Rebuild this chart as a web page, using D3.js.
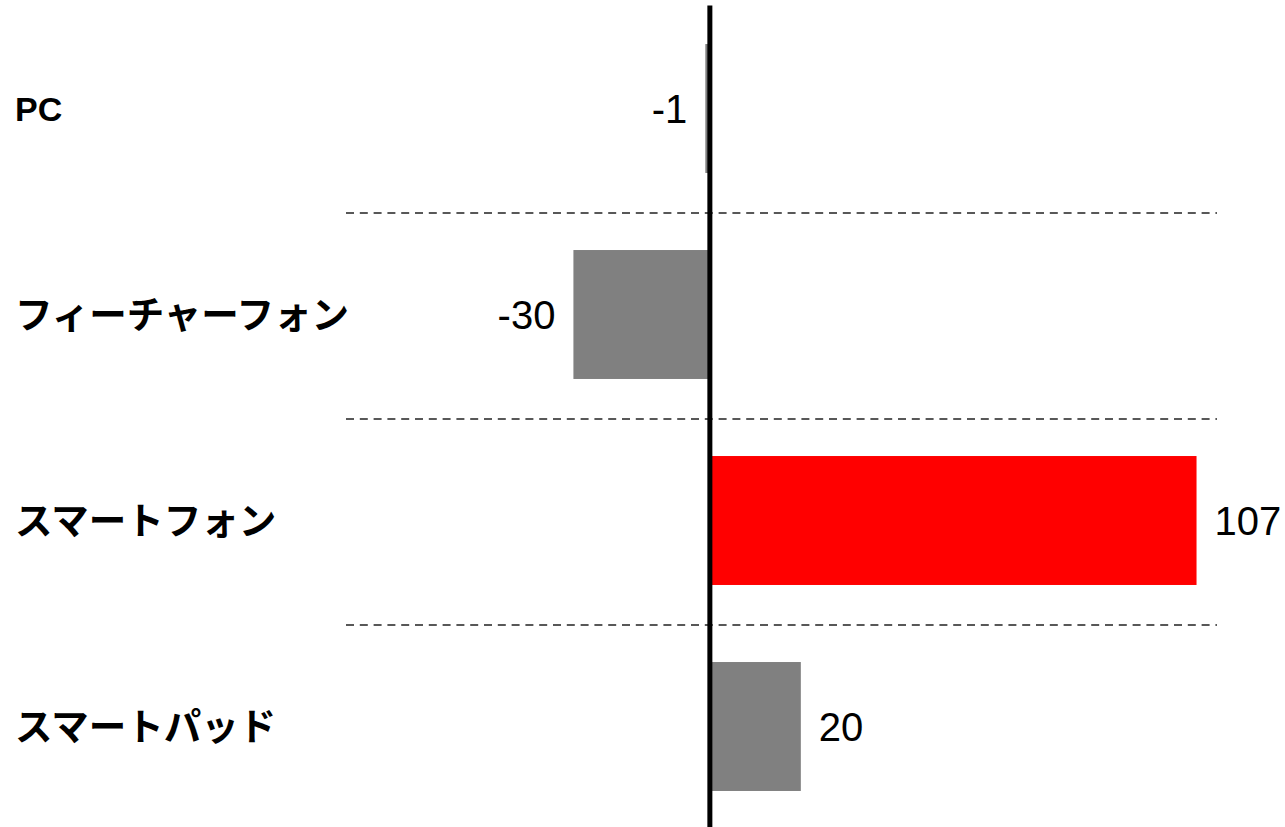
<!DOCTYPE html>
<html>
<head>
<meta charset="utf-8">
<script src="https://cdn.jsdelivr.net/npm/d3@7"></script>
<style>
  body { margin: 0; background: #fff; }
  svg { display: block; }
</style>
</head>
<body>
<svg id="chart"></svg>
<script>

// data
var categories = ["PC", "フィーチャーフォン", "スマートフォン", "スマートパッド"];
var values = [-1, -30, 107, 20];
var highlight = "スマートフォン";

// parameters
var width = 1285;
var height = 827;

var svg = d3.select("#chart");
svg.attr("width", width);
svg.attr("height", height);

// scales
var x = d3.scaleLinear()
  .domain([-80, 111.5])
  .range([346, 1217]);

var y = d3.scaleBand()
  .domain(categories)
  .range([5.5, 829.5])
  .paddingInner(0.374)
  .paddingOuter(0.187);

var gap = y.step() * y.paddingInner() / 2;

// dashed separators between the rows
for (var i = 1; i < categories.length; i += 1) {
  var yy = y(categories[i]) - gap + 1.5;
  var line = svg.append("line");
  line.attr("x1", x.range()[0]);
  line.attr("x2", x.range()[1]);
  line.attr("y1", yy);
  line.attr("y2", yy);
  line.attr("stroke", "#222");
  line.attr("stroke-width", 1.5);
  line.style("stroke-dasharray", "8, 5.8");
}

// bars
svg.selectAll("rect.bar")
  .data(values)
  .enter().append("rect")
  .attr("class", "bar")
  .attr("x", function (d) { return x(Math.min(0, d)); })
  .attr("width", function (d) { return Math.abs(x(d) - x(0)); })
  .attr("y", function (d, i) { return y(categories[i]); })
  .attr("height", y.bandwidth())
  .attr("fill", function (d, i) { return categories[i] === highlight ? "#ff0000" : "#808080"; });

// value labels
svg.selectAll("text.value")
  .data(values)
  .enter().append("text")
  .attr("class", "value")
  .attr("x", function (d) { return d < 0 ? x(d) - 18 : x(d) + 18; })
  .attr("y", function (d, i) { return y(categories[i]) + y.bandwidth() / 2; })
  .attr("dy", "0.36em")
  .attr("text-anchor", function (d) { return d < 0 ? "end" : "start"; })
  .attr("font-family", "'Liberation Sans', Arial, sans-serif")
  .attr("font-size", "40px")
  .attr("fill", "#000")
  .text(function (d) { return d; });

// category labels (latin labels a bit smaller than the katakana ones)
svg.selectAll("text.cat")
  .data(categories)
  .enter().append("text")
  .attr("class", "cat")
  .attr("x", 15)
  .attr("y", function (d) { return y(d) + y.bandwidth() / 2; })
  .attr("dy", "0.36em")
  .attr("font-family", "'Liberation Sans', 'Noto Sans CJK JP', sans-serif")
  .attr("font-weight", "bold")
  .attr("font-size", function (d) { return /^[\x00-\x7F]+$/.test(d) ? "34px" : "37.5px"; })
  .attr("fill", "#000")
  .text(function (d) { return d; });

// zero axis
var axis = svg.append("line");
axis.attr("x1", x(0));
axis.attr("x2", x(0));
axis.attr("y1", y.range()[0]);
axis.attr("y2", y.range()[1]);
axis.attr("stroke", "#000");
axis.attr("stroke-width", 5);

</script>
</body>
</html>
